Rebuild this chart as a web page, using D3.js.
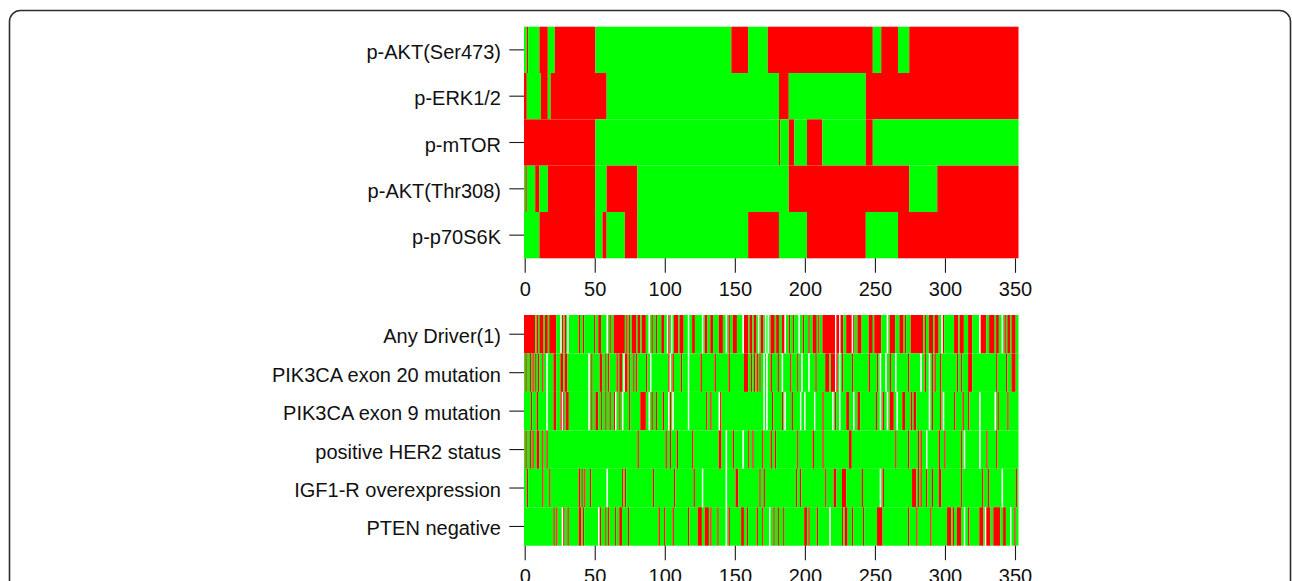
<!DOCTYPE html>
<html><head><meta charset="utf-8">
<script src="https://cdn.jsdelivr.net/npm/d3@7"></script>
<style>
body{margin:0;background:#fff}
text{font-family:"Liberation Sans",Arial,Helvetica,sans-serif}
</style>
</head><body>
<svg id="chart" width="1292" height="581"></svg>
<script>
// ---------- DATA ----------
const nPatients = 353;               // columns 0..352
const xTickValues = [0, 50, 100, 150, 200, 250, 300, 350];

// Top panel: protein phosphorylation; runs of [firstColumn, status] (1 = red/positive, 0 = green)
const topLabels = ["p-AKT(Ser473)", "p-ERK1/2", "p-mTOR", "p-AKT(Thr308)", "p-p70S6K"];
const pAktSer473 = [[0,0],[2,1],[3,0],[11,1],[17,0],[22,1],[51,0],[148,1],[160,0],[174,1],[249,0],[255,1],[267,0],[275,1]];
const pErk12     = [[0,1],[2,0],[12,1],[17,0],[19,1],[59,0],[182,1],[189,0],[244,1]];
const pMtor      = [[0,1],[51,0],[182,1],[183,0],[189,1],[193,0],[202,1],[213,0],[244,1],[249,0]];
const pAktThr308 = [[0,0],[1,1],[2,0],[8,1],[11,0],[17,1],[51,0],[59,1],[81,0],[189,1],[275,0],[295,1]];
const pP70S6K    = [[0,0],[11,1],[51,0],[56,1],[59,0],[72,1],[81,0],[160,1],[182,0],[202,1],[244,0],[267,1]];

// Bottom panel: molecular alterations; red columns (single index or [from,to]) and missing (white) columns
const bottomLabels = ["Any Driver(1)", "PIK3CA exon 20 mutation", "PIK3CA exon 9 mutation",
                      "positive HER2 status", "IGF1-R overexpression", "PTEN negative"];
const anyDriverRed = [[0,7],9,[11,13],[15,16],[18,22],27,29,39,42,50,[53,54],61,[64,71],73,75,[77,79],[81,82],[84,86],91,94,[98,99],103,[107,109],[111,113],[120,121],[129,130],[133,134],[139,141],146,[149,151],[157,159],[161,162],[164,165],[169,170],[176,178],[180,181],[184,185],189,192,199,203,[206,208],210,[213,221],[223,224],[226,227],[230,233],235,[238,240],[246,248],[250,254],[261,264],[268,270],272,[276,284],286,[289,291],[293,295],299,[307,309],[311,313],[317,319],[326,329],[332,335],[337,338],343,[345,346],[348,350]];
const anyDriverNA  = [26,31,59,89,102,105,117,127,144,156,167,172,174,186,196,222,225,234,259,298,325,341];
const pik3ca20Red  = [1,4,6,8,10,13,21,22,[26,27],[29,30],48,[54,55],58,60,66,[68,69],[72,73],75,78,80,87,103,106,112,126,136,146,[157,159],162,164,166,168,176,181,190,195,208,[215,217],[219,221],223,227,234,246,252,261,274,286,291,293,297,309,312,[317,319],337,344,[348,350]];
const pik3ca20NA   = [16,46,71,90,104,117,171,173,184,198,203,222,225,254,258,265,283,289];
const pik3ca9Red   = [5,9,21,22,26,28,[30,31],48,[51,52],55,58,61,64,68,75,[83,86],91,94,99,104,130,133,140,177,184,191,213,222,[230,231],[238,239],251,256,[261,263],[270,271],276,[278,279],291,297,307,313,317,338,345];
const pik3ca9NA    = [16,27,46,65,70,89,103,106,117,139,171,173,186,197,200,207,220,225,235,254,259,266,289,299,325,336];
const her2Red      = [1,4,6,9,10,13,16,81,101,104,109,120,[139,140],149,160,163,170,176,179,195,206,213,[232,233],265,274,281,283,296,300,312,330,337];
const her2NA       = [144,156,287,314,325];
const igf1rRed     = [2,13,18,39,41,43,47,70,72,92,107,121,[151,152],168,171,194,197,215,[221,222],[227,229],241,256,[277,279],281,283,287,291,[296,297],312,327,331,351];
const igf1rNA      = [59,127,144,254,341];
const ptenRed      = [21,23,28,31,39,40,42,54,58,60,65,68,69,74,96,100,106,117,[124,126],[129,131],133,138,146,[155,156],159,166,170,178,181,185,[200,201],203,209,227,[229,230],234,242,[252,255],274,280,290,[302,304],306,[309,311],317,[325,327],[330,332],[335,339],[342,343],350];
const ptenNA       = [27,53,144,175,218,314,329,347];

const statusColor = ["#00FF00", "#FF0000", "#FFFFFF"];

// ---------- BUILD ROWS ----------
function fromRuns(runs) {
  const a = new Array(nPatients).fill(0);
  runs.forEach((r, i) => {
    const end = i + 1 < runs.length ? runs[i + 1][0] : nPatients;
    for (let c = r[0]; c < end; c++) a[c] = r[1];
  });
  return a;
}
function fromLists(red, na) {
  const a = new Array(nPatients).fill(0);
  red.forEach(v => { const [s, e] = Array.isArray(v) ? v : [v, v]; for (let c = s; c <= e; c++) a[c] = 1; });
  na.forEach(c => { a[c] = 2; });
  return a;
}
const topRows = [pAktSer473, pErk12, pMtor, pAktThr308, pP70S6K].map(fromRuns);
const bottomRows = [[anyDriverRed, anyDriverNA], [pik3ca20Red, pik3ca20NA], [pik3ca9Red, pik3ca9NA],
                    [her2Red, her2NA], [igf1rRed, igf1rNA], [ptenRed, ptenNA]].map(d => fromLists(d[0], d[1]));

function toSegments(arr) {
  const segs = [];
  let s = 0;
  for (let i = 1; i <= arr.length; i++) {
    if (i === arr.length || arr[i] !== arr[s]) { segs.push({start: s, end: i - 1, v: arr[s]}); s = i; }
  }
  return segs;
}

// ---------- DRAW ----------
const svg = d3.select("#chart");
svg.append("rect").attr("x", 9.5).attr("y", 10.5).attr("width", 1281).attr("height", 640)
  .attr("rx", 11).attr("fill", "none").attr("stroke", "#2e2e2e").attr("stroke-width", 1.6);

const x = d3.scaleLinear().domain([0, 350]).range([524.7, 1015]);

function panel(labels, rows, y0, y1) {
  const y = d3.scaleBand().domain(labels).range([y0, y1]);
  const g = svg.append("g");
  rows.forEach((arr, ri) => {
    g.selectAll(null).data(toSegments(arr)).join("rect")
      .attr("x", d => x(d.start - 0.5))
      .attr("width", d => x(d.end + 0.5) - x(d.start - 0.5))
      .attr("y", y(labels[ri]))
      .attr("height", y.bandwidth())
      .attr("fill", d => statusColor[d.v]);
  });
  const ax = g.append("g").attr("transform", `translate(0,${y1})`)
    .call(d3.axisBottom(x).tickValues(xTickValues).tickSize(14.5).tickPadding(9));
  const ay = g.append("g").attr("transform", `translate(${x(-0.5)},0)`)
    .call(d3.axisLeft(y).tickSize(14.7).tickPadding(8.3));
  [ax, ay].forEach(a => {
    a.select(".domain").remove();
    a.selectAll(".tick line").attr("stroke", "#1a1a1a").attr("stroke-width", 1.1);
    a.selectAll(".tick text").attr("fill", "#111").style("font-size", "20px")
      .style("font-family", '"Liberation Sans", Arial, Helvetica, sans-serif');
  });
  ay.selectAll(".tick text").attr("dy", "0.45em");
}

panel(topLabels, topRows, 26.7, 258.3);
panel(bottomLabels, bottomRows, 315, 545.7);
</script>
</body></html>
